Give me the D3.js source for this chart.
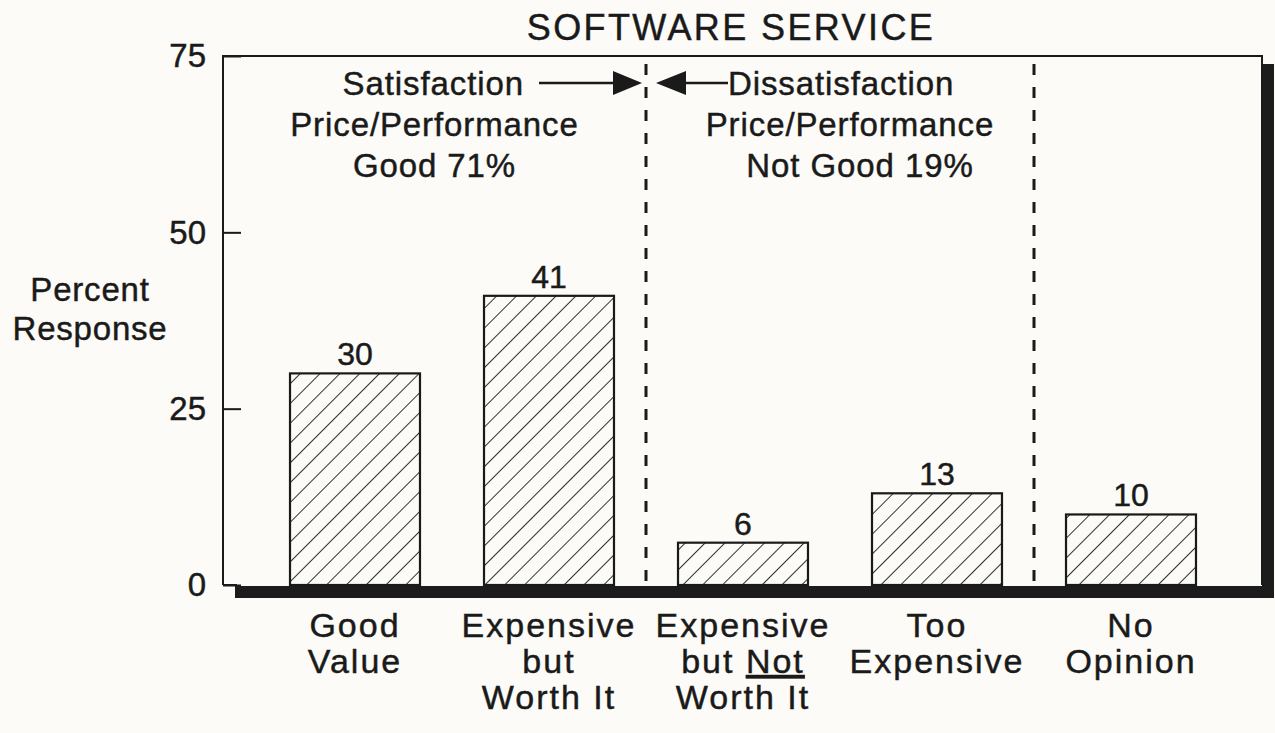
<!DOCTYPE html>
<html>
<head>
<meta charset="utf-8">
<script src="https://cdn.jsdelivr.net/npm/d3@7"></script>
<style>
  body { margin: 0; background: #fcfbf7; }
  text { font-family: "Liberation Sans", Arial, Helvetica, sans-serif; fill: #1a1a1a; stroke: #1a1a1a; stroke-width: 0.45px; }
</style>
</head>
<body>
<div id="chart"></div>
<script>
// Software service - price/performance survey
// data
const categories = ["Good Value", "Expensive but Worth It", "Expensive but Not Worth It", "Too Expensive", "No Opinion"];
const categoryLines = [["Good", "Value"], ["Expensive", "but", "Worth It"], ["Expensive", "but Not", "Worth It"], ["Too", "Expensive"], ["No", "Opinion"]];
const percents = [30, 41, 6, 13, 10];
const yTicks = [0, 25, 50, 75];
const sectionNotes = [
    ["Satisfaction", "Price/Performance", "Good 71%"],
    ["Dissatisfaction", "Price/Performance", "Not Good 19%"]
];

const data = categories.map((c, i) => ({ cat: c, lines: categoryLines[i], value: percents[i] }));

// dimensions
const W = 1275, H = 733;
const plotLeft = 223, plotRight = 1262, plotTop = 56, plotBottom = 585;

const svg = d3.select("#chart")
    .append("svg")
    .attr("width", W)
    .attr("height", H);

svg.append("rect").attr("width", W).attr("height", H).attr("fill", "#fcfbf7");

// hatch pattern for bars
svg.append("defs")
    .append("pattern")
    .attr("id", "hatch")
    .attr("patternUnits", "userSpaceOnUse")
    .attr("width", 14)
    .attr("height", 10)
    .attr("patternTransform", "rotate(45)")
    .append("line")
    .attr("x1", 0).attr("y1", -2)
    .attr("x2", 0).attr("y2", 12)
    .attr("stroke", "#1a1a1a")
    .attr("stroke-width", 1.8);

// scales
var xScale = d3.scaleBand()
    .domain(categories)
    .range([258, 1228])
    .paddingInner(0.33)
    .paddingOuter(0.165);

var yScale = d3.scaleLinear()
    .domain([0, 75])
    .range([plotBottom, plotTop]);

// shadow of the frame (right + bottom)
svg.append("rect")
    .attr("x", plotRight).attr("y", plotTop + 8)
    .attr("width", 12).attr("height", plotBottom - plotTop + 5)
    .attr("fill", "#1c1c1c");
svg.append("rect")
    .attr("x", plotLeft + 12).attr("y", plotBottom + 1)
    .attr("width", plotRight - plotLeft).attr("height", 12)
    .attr("fill", "#1c1c1c");

// frame
svg.append("path")
    .attr("d", `M${plotLeft},${plotBottom}V${plotTop}H${plotRight}V${plotBottom}`)
    .attr("fill", "none")
    .attr("stroke", "#1a1a1a")
    .attr("stroke-width", 2);
svg.append("line")
    .attr("x1", plotLeft).attr("x2", plotLeft + 14)
    .attr("y1", plotBottom).attr("y2", plotBottom)
    .attr("stroke", "#1a1a1a").attr("stroke-width", 2);

// y axis (ticks inside the frame)
const yAxis = svg.append("g")
    .attr("transform", "translate(" + plotLeft + ",0)")
    .call(d3.axisLeft(yScale).tickValues(yTicks).tickSize(-18).tickPadding(17));
yAxis.select(".domain").remove();
yAxis.selectAll(".tick line").attr("stroke", "#1a1a1a").attr("stroke-width", 2);
yAxis.selectAll(".tick text")
    .attr("font-size", 33)
    .attr("font-family", "Liberation Sans, Arial, sans-serif")
    .attr("fill", "#1a1a1a")
    .attr("dy", "0.33em");

// y label
svg.append("text")
    .attr("x", 90)
    .attr("y", 301)
    .attr("text-anchor", "middle")
    .attr("font-size", 33)
    .attr("letter-spacing", 0.8)
    .selectAll("tspan")
    .data(["Percent", "Response"])
    .enter().append("tspan")
    .attr("x", 90)
    .attr("dy", (d, i) => i ? 39 : 0)
    .text(d => d);

// title
svg.append("text")
    .attr("x", 731)
    .attr("y", 40)
    .attr("text-anchor", "middle")
    .attr("font-size", 36)
    .attr("letter-spacing", 2.4)
    .text("SOFTWARE SERVICE");

// dashed section dividers
const half = xScale.step() * xScale.paddingInner() / 2;
const dividers = [xScale(categories[2]) - half, xScale(categories[4]) - half];
svg.selectAll(".divider")
    .data(dividers)
    .enter().append("line")
    .attr("class", "divider")
    .attr("x1", d => d).attr("x2", d => d)
    .attr("y1", plotTop + 8).attr("y2", plotBottom)
    .attr("stroke", "#1a1a1a")
    .attr("stroke-width", 3)
    .attr("stroke-dasharray", "11,12");

// section notes
const leftMid = (plotLeft + dividers[0]) / 2;
const midMid = (dividers[0] + dividers[1]) / 2 + 10;

svg.append("text")
    .attr("x", dividers[0] - 122).attr("y", 95)
    .attr("text-anchor", "end")
    .attr("font-size", 33).attr("letter-spacing", 0.9)
    .text(sectionNotes[0][0]);
svg.append("text")
    .attr("x", dividers[0] + 82).attr("y", 95)
    .attr("text-anchor", "start")
    .attr("font-size", 33).attr("letter-spacing", 0.9)
    .text(sectionNotes[1][0]);

[leftMid, midMid].forEach((cx, k) => {
    svg.append("text")
        .attr("x", cx).attr("y", 136)
        .attr("text-anchor", "middle")
        .attr("font-size", 33).attr("letter-spacing", 0.9)
        .text(sectionNotes[k][1]);
    svg.append("text")
        .attr("x", cx + (k ? 10 : 0)).attr("y", 177)
        .attr("text-anchor", "middle")
        .attr("font-size", 33).attr("letter-spacing", 0.9)
        .text(sectionNotes[k][2]);
});

// arrows pointing at the first divider
const ay = 83, dx = dividers[0];
svg.append("line")
    .attr("x1", dx - 107).attr("x2", dx - 30)
    .attr("y1", ay).attr("y2", ay)
    .attr("stroke", "#1a1a1a").attr("stroke-width", 2.4);
svg.append("path")
    .attr("d", `M${dx - 33},${ay - 12}L${dx - 4},${ay}L${dx - 33},${ay + 12}Z`)
    .attr("fill", "#1a1a1a");
svg.append("line")
    .attr("x1", dx + 38).attr("x2", dx + 82)
    .attr("y1", ay).attr("y2", ay)
    .attr("stroke", "#1a1a1a").attr("stroke-width", 2.4);
svg.append("path")
    .attr("d", `M${dx + 40},${ay - 12}L${dx + 10},${ay}L${dx + 40},${ay + 12}Z`)
    .attr("fill", "#1a1a1a");

// bars
svg.append("g")
    .selectAll("rect")
    .data(data)
    .enter().append("rect")
    .attr("x", d => xScale(d.cat))
    .attr("y", d => yScale(d.value))
    .attr("width", xScale.bandwidth())
    .attr("height", d => yScale(0) - yScale(d.value))
    .attr("fill", "url(#hatch)")
    .attr("stroke", "#1a1a1a")
    .attr("stroke-width", 2.2);

// value labels
svg.append("g")
    .selectAll("text")
    .data(data)
    .enter().append("text")
    .attr("x", d => xScale(d.cat) + xScale.bandwidth() / 2)
    .attr("y", d => yScale(d.value) - 8)
    .attr("text-anchor", "middle")
    .attr("font-size", 32)
    .text(d => d.value);

// category labels below the axis
const catText = svg.append("g")
    .selectAll("text")
    .data(data)
    .enter().append("text")
    .attr("x", d => xScale(d.cat) + xScale.bandwidth() / 2)
    .attr("y", 637)
    .attr("text-anchor", "middle")
    .attr("font-size", 34)
    .attr("letter-spacing", 2);

catText.each(function(d) {
    const t = d3.select(this);
    const cx = xScale(d.cat) + xScale.bandwidth() / 2;
    d.lines.forEach((ln, i) => {
        if (ln === "but Not") {
            t.append("tspan").attr("x", cx).attr("dy", 36).text("but ");
            t.append("tspan").attr("text-decoration", "underline").text("Not");
        } else {
            t.append("tspan").attr("x", cx).attr("dy", i ? 36 : 0).text(ln);
        }
    });
});
</script>
</body>
</html>
